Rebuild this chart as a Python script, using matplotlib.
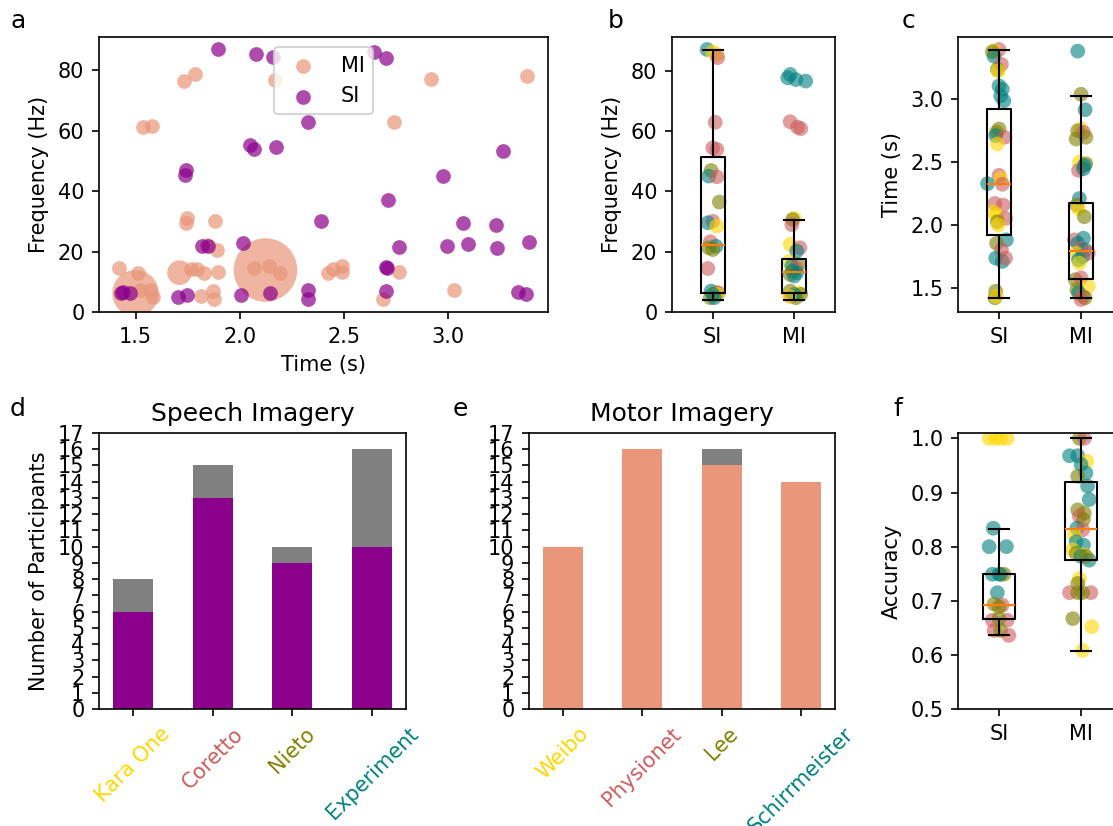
import numpy as np
import matplotlib
matplotlib.use("Agg")
import matplotlib.pyplot as plt

# -----------------------------
# Datos
# -----------------------------
set_colors = ["gold", "indianred", "olive", "teal"]
mi_color = "darksalmon"
si_color = "darkmagenta"

# panel a: tiempo vs frecuencia
a_si_time = [1.895, 2.080, 2.161, 2.646, 2.701, 2.328, 2.048, 2.068, 2.175, 3.267,
             1.743, 1.735, 2.977, 2.715, 2.389, 3.072, 3.233, 3.389, 2.768, 2.997,
             3.096, 3.235, 1.818, 1.850, 2.014, 2.701, 2.706, 1.428, 1.473, 1.44,
             1.706, 1.746, 2.008, 2.145, 2.328, 2.328, 2.703, 3.338, 3.378]
a_si_freq = [86.9, 85.5, 84.4, 86.1, 84.2, 63.0, 55.1, 54.1, 54.7, 53.2,
             46.9, 45.2, 45.1, 36.9, 30.1, 29.6, 28.7, 23.1, 21.6, 21.8,
             22.6, 21.2, 21.8, 21.8, 22.7, 14.9, 14.7, 6.4, 6.2, 6.5,
             4.8, 5.5, 5.6, 6.4, 7.3, 4.4, 7.1, 6.7, 6.1]
a_mi_time = [1.733, 1.783, 2.169, 2.920, 3.379, 1.537, 1.577, 2.744, 1.749, 1.743,
             1.883, 1.842, 1.891, 1.421, 1.513, 1.831, 1.895, 1.764, 1.793, 2.068,
             2.140, 2.193, 2.426, 2.450, 2.493, 2.493, 2.764, 1.813, 1.870, 1.878,
             2.691, 3.029, 1.569, 1.585, 1.521]
a_mi_freq = [76.6, 78.9, 76.9, 77.2, 78.1, 61.3, 61.4, 62.8, 31.0, 29.5,
             30.1, 22.1, 20.5, 14.7, 13.0, 13.0, 13.4, 14.1, 14.1, 14.4,
             15.2, 13.0, 13.0, 14.1, 15.2, 13.3, 13.4, 5.4, 7.1, 4.4,
             4.4, 7.3, 7.3, 5.1, 7.3]
# puntos repetidos (tamaño grande)
a_mi_big_time = [1.500, 1.711, 2.124]
a_mi_big_freq = [6.2, 13.0, 13.9]
a_mi_big_size = [500, 140, 930]

# panel b: frecuencia (valor, dataset, desplazamiento)
b_si_val = [87.2, 86.4, 85.5, 84.5, 63.0, 54.5, 54.0, 47.0, 45.1, 44.9, 36.5, 30.1, 29.6,
            28.5, 23.3, 21.3, 21.8, 20.7, 14.4, 6.9, 6.3, 6.3, 5.8, 5.8, 4.7, 4.7]
b_si_set = [3, 0, 0, 1, 1, 1, 1, 2, 3, 1, 2, 1, 3, 0, 1, 2, 3, 2, 1, 3, 2, 1, 0, 3, 2, 3]
b_si_dx = [-0.07, 0.0, 0.05, 0.06, 0.03, 0.0, 0.05, -0.02, -0.05, 0.05, 0.08, 0.0, -0.06,
           0.05, -0.03, -0.05, 0.04, 0.0, -0.06, -0.02, 0.04, 0.07, 0.06, 0.0, -0.03, 0.02]
b_mi_val = [78.9, 77.8, 77.2, 76.7, 63.2, 61.4, 60.9, 31.0, 30.7, 29.0, 22.4, 21.3, 20.2, 16.8,
            15.7, 15.2, 14.6, 13.5, 13.0, 12.4, 11.9, 6.9, 6.3, 5.8, 5.2, 4.7, 5.8, 5.2]
b_mi_set = [3, 3, 3, 3, 1, 1, 1, 0, 2, 1, 0, 1, 3, 0, 2, 3, 1, 3, 3, 2, 3, 2, 0, 2, 1, 2, 3, 0]
b_mi_dx = [-0.05, -0.08, 0.02, 0.14, -0.05, 0.04, 0.08, 0.0, -0.02, -0.03, -0.05, 0.07, 0.03,
           -0.06, 0.05, -0.03, 0.02, -0.02, 0.03, -0.05, 0.0, -0.05, 0.05, 0.08, -0.04, 0.02,
           0.0, -0.06]

# panel c: tiempo
c_si_val = [3.394, 3.381, 3.376, 3.341, 3.276, 3.236, 3.223, 3.105, 3.079, 3.026, 2.987,
            2.764, 2.737, 2.711, 2.698, 2.645, 2.396, 2.370, 2.325, 2.330, 2.173, 2.160,
            2.107, 2.081, 2.054, 2.028, 2.002, 1.884, 1.857, 1.805, 1.739, 1.713, 1.739,
            1.476, 1.424, 1.437]
c_si_set = [1, 0, 2, 3, 1, 2, 0, 3, 3, 3, 3, 2, 2, 3, 1, 0, 1, 0, 1, 3, 1, 1, 0, 0, 1, 2,
            0, 3, 2, 1, 3, 3, 1, 2, 2, 0]
c_si_dx = [0.0, -0.06, -0.08, -0.06, 0.03, -0.02, -0.01, 0.0, 0.04, 0.02, 0.06, 0.0, -0.03,
           -0.04, 0.07, -0.02, 0.0, 0.02, 0.04, -0.14, -0.05, 0.05, -0.07, -0.03, 0.08,
           -0.02, -0.01, 0.09, -0.03, 0.03, -0.04, 0.04, 0.08, -0.04, -0.05, -0.03]
c_mi_val = [3.381, 3.039, 2.916, 2.764, 2.750, 2.737, 2.698, 2.684, 2.501, 2.488, 2.475,
            2.435, 2.448, 2.212, 2.160, 2.133, 2.067, 1.884, 1.897, 1.857, 1.818, 1.805,
            1.779, 1.752, 1.779, 1.726, 1.700, 1.568, 1.582, 1.516, 1.489, 1.463, 1.437,
            1.424, 1.411]
c_mi_set = [3, 2, 3, 0, 2, 1, 2, 2, 0, 2, 3, 1, 3, 3, 2, 0, 2, 1, 3, 3, 1, 3, 0, 3, 1, 3,
            0, 2, 1, 0, 2, 3, 1, 2, 1]
c_mi_dx = [-0.04, 0.0, 0.05, 0.0, -0.04, 0.03, 0.06, -0.06, -0.02, 0.06, 0.04, -0.03, 0.03,
           -0.02, -0.05, -0.03, 0.04, -0.08, 0.03, -0.04, 0.0, 0.05, -0.06, 0.02, 0.09,
           -0.03, -0.02, -0.07, 0.0, 0.09, -0.05, -0.03, 0.02, 0.05, 0.0]

# panel f: accuracy
f_si_val = [1.0, 1.0, 1.0, 1.0, 0.834, 0.800, 0.800, 0.749, 0.749, 0.749, 0.749, 0.715,
            0.694, 0.692, 0.689, 0.664, 0.664, 0.667, 0.645, 0.645, 0.636]
f_si_set = [0, 0, 0, 0, 3, 3, 3, 3, 3, 2, 3, 3, 2, 1, 2, 1, 1, 2, 1, 2, 1]
f_si_dx = [-0.12, -0.04, 0.02, 0.10, -0.07, -0.12, 0.09, -0.08, 0.02, 0.06, 0.0, -0.02,
           -0.06, 0.04, 0.0, -0.08, 0.10, 0.0, -0.06, 0.02, 0.12]
f_mi_val = [1.0, 1.0, 0.968, 0.968, 0.958, 0.952, 0.936, 0.930, 0.912, 0.887, 0.868, 0.862,
            0.856, 0.850, 0.834, 0.831, 0.822, 0.809, 0.803, 0.794, 0.788, 0.785, 0.782,
            0.775, 0.782, 0.741, 0.732, 0.715, 0.715, 0.715, 0.715, 0.667, 0.652, 0.608]
f_mi_set = [2, 1, 3, 3, 0, 3, 3, 2, 3, 3, 2, 2, 1, 2, 3, 1, 0, 3, 3, 0, 2, 0, 3, 3, 2, 0,
            2, 1, 1, 2, 2, 2, 0, 0]
f_mi_dx = [-0.02, 0.04, -0.14, -0.04, 0.07, 0.0, 0.06, -0.04, 0.08, 0.10, -0.04, 0.04,
           -0.02, 0.03, -0.05, 0.02, -0.08, -0.06, 0.03, -0.10, -0.06, 0.04, 0.0, 0.10,
           0.06, -0.02, -0.04, -0.14, 0.12, -0.04, 0.02, -0.10, 0.13, 0.02]

# estadísticas de las cajas [SI, MI]
b_box = {"whislo": [4.1, 4.1], "q1": [6.3, 6.1], "med": [22.3, 13.3],
         "q3": [51.4, 17.4], "whishi": [87.0, 30.5]}
c_box = {"whislo": [1.424, 1.421], "q1": [1.923, 1.571], "med": [2.325, 1.797],
         "q3": [2.924, 2.180], "whishi": [3.389, 3.026]}
f_box = {"whislo": [0.636, 0.608], "q1": [0.666, 0.775], "med": [0.692, 0.833],
         "q3": [0.749, 0.920], "whishi": [0.833, 1.0]}

# paneles d y e: participantes
si_datasets = ["Kara One", "Coretto", "Nieto", "Experiment"]
si_total = [8, 15, 10, 16]
si_used = [6, 13, 9, 10]
mi_datasets = ["Weibo", "Physionet", "Lee", "Schirrmeister"]
mi_total = [10, 16, 16, 14]
mi_used = [10, 16, 15, 14]

# -----------------------------
# Figura
# -----------------------------
W, H = 1113, 826
fig = plt.figure(figsize=(W / 150, H / 150), dpi=150)


def px_axes(left, top, right, bottom):
    return fig.add_axes([left / W, 1 - bottom / H, (right - left) / W, (bottom - top) / H])


ax_a = px_axes(99, 37, 548, 312)
ax_b = px_axes(672, 37, 835, 312)
ax_c = px_axes(958, 37, 1122, 312)
ax_d = px_axes(99, 433, 406, 709)
ax_e = px_axes(529, 433, 835, 709)
ax_f = px_axes(958, 433, 1122, 709)

# panel a
ax_a.scatter(a_mi_time, a_mi_freq, s=50, color=mi_color, alpha=0.7, linewidths=0, label="MI")
ax_a.scatter(a_mi_big_time, a_mi_big_freq, s=a_mi_big_size, color=mi_color, alpha=0.7,
             linewidths=0)
ax_a.scatter(a_si_time, a_si_freq, s=50, color=si_color, alpha=0.7, linewidths=0, label="SI")
ax_a.set_xlim(1.324, 3.482)
ax_a.set_ylim(0, 91)
ax_a.set_xticks([1.5, 2.0, 2.5, 3.0])
ax_a.set_xlabel("Time (s)")
ax_a.set_ylabel("Frequency (Hz)")
ax_a.legend(loc="upper center")


def strip_box(ax, si_val, si_set, si_dx, mi_val, mi_set, mi_dx, box, width):
    for pos, vals, sets, dxs in [(1, si_val, si_set, si_dx), (2, mi_val, mi_set, mi_dx)]:
        xs = [pos + d for d in dxs]
        cols = [set_colors[s] for s in sets]
        ax.scatter(xs, vals, s=50, c=cols, alpha=0.6, linewidths=0, zorder=1)
    stats = []
    for i, lab in enumerate(["SI", "MI"]):
        stats.append({"label": lab, "whislo": box["whislo"][i], "q1": box["q1"][i],
                      "med": box["med"][i], "q3": box["q3"][i], "whishi": box["whishi"][i]})
    ax.bxp(stats, positions=[1, 2], widths=width, capwidths=0.25, showfliers=False,
           boxprops=dict(color="black"), whiskerprops=dict(color="black"),
           capprops=dict(color="black"), medianprops=dict(color="tab:orange"), zorder=3)
    ax.set_xlim(0.5, 2.5)


strip_box(ax_b, b_si_val, b_si_set, b_si_dx, b_mi_val, b_mi_set, b_mi_dx, b_box, 0.3)
ax_b.set_ylabel("Frequency (Hz)")
ax_b.set_yticks([0, 20, 40, 60, 80])

strip_box(ax_c, c_si_val, c_si_set, c_si_dx, c_mi_val, c_mi_set, c_mi_dx, c_box, 0.3)
ax_c.set_ylabel("Time (s)")
ax_c.set_yticks([1.5, 2.0, 2.5, 3.0])

strip_box(ax_f, f_si_val, f_si_set, f_si_dx, f_mi_val, f_mi_set, f_mi_dx, f_box, 0.4)
ax_f.set_ylabel("Accuracy")
ax_f.set_ylim(0.5, 1.01)
ax_f.set_yticks([0.5, 0.6, 0.7, 0.8, 0.9, 1.0])

# paneles d, e
for ax, names, total, used, col, title in [
        (ax_d, si_datasets, si_total, si_used, si_color, "Speech Imagery"),
        (ax_e, mi_datasets, mi_total, mi_used, mi_color, "Motor Imagery")]:
    x = np.arange(len(names))
    ax.bar(x, total, width=0.5, color="gray")
    ax.bar(x, used, width=0.5, color=col)
    ax.set_xticks(x)
    ax.set_xticklabels(names, rotation=45)
    for lab, c in zip(ax.get_xticklabels(), set_colors):
        lab.set_color(c)
    ax.set_ylim(0, 17)
    ax.set_yticks(range(0, 18))
    ax.set_title(title, fontsize=12)
ax_d.set_ylabel("Number of Participants")

# letras
for letter, x, y in [("a", 10, 28), ("b", 608, 28), ("c", 902, 28),
                     ("d", 10, 416), ("e", 453, 416), ("f", 893, 416)]:
    fig.text(x / W, 1 - y / H, letter, fontsize=12, va="baseline", ha="left")

fig.savefig("out.png", dpi=150)
